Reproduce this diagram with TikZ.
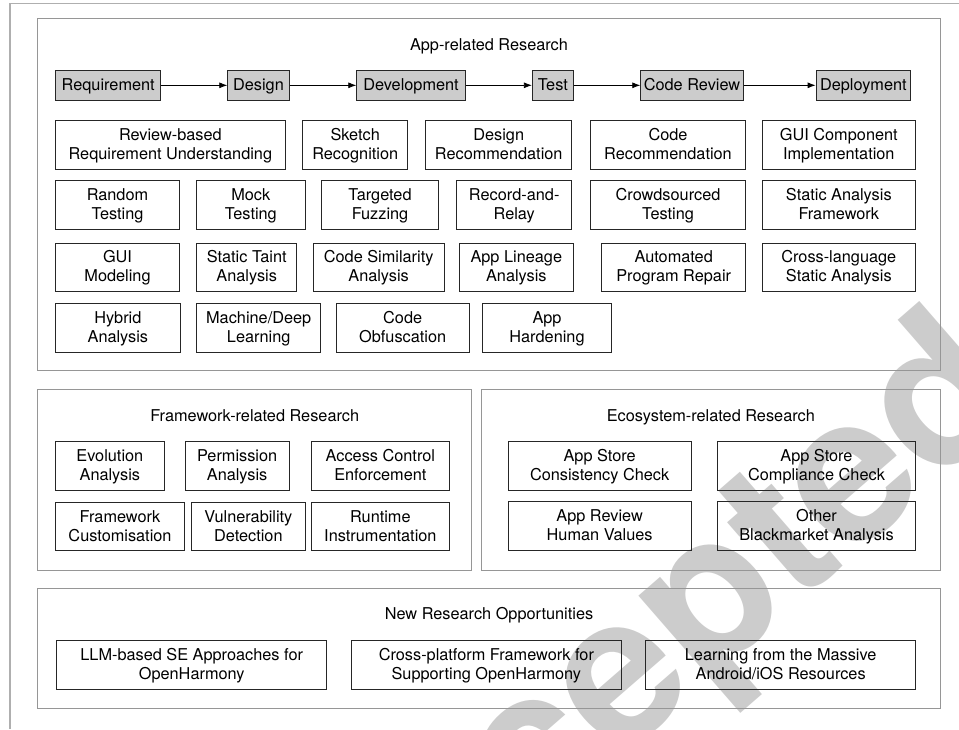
\documentclass[tikz,border=0pt]{standalone}
\usepackage{fontspec}
\setmainfont{TeX Gyre Heros}
\usetikzlibrary{arrows.meta}
\definecolor{stagefill}{RGB}{204,204,204}
\definecolor{panelline}{RGB}{150,150,150}
\definecolor{frameline}{RGB}{175,175,175}
\definecolor{stampgray}{RGB}{204,204,204}
\newcommand{\ls}{\rule[-3.3pt]{0pt}{17pt}}
\newcommand{\topic}[6]{\node[topic, minimum width=#4pt] (#1) at (#2,#3) {\ls#5\\\ls#6};}
\newcommand{\stage}[5]{\node[stagebox, minimum width=#4pt] (#1) at (#2,#3) {\ls#5};}
\newcommand{\panel}[4]{\draw[panel] (#1,#2) rectangle (#3,#4);}
\tikzset{
  topic/.style={draw=black!85, line width=0.8pt, align=center, minimum height=48.6pt, inner sep=2pt},
  stagebox/.style={draw=black!85, fill=stagefill, line width=0.8pt, minimum height=29.3pt, inner sep=2pt},
  panel/.style={draw=panelline, line width=1pt},
  paneltitle/.style={anchor=base},
  flow/.style={-{Latex[length=8pt,width=6pt]}, line width=0.8pt},
  stamp/.style={text=stampgray, font=\fontsize{205}{205}\selectfont\bfseries, inner sep=0pt}
}

\begin{document}
\lineskiplimit=-50pt
\begin{tikzpicture}[x=1pt,y=-1pt,font=\fontsize{16.3}{19.2}\selectfont]
\useasboundingbox (0,0) rectangle (959,729);
\node[stamp, rotate=41, anchor=base east] (stamp) at (1028,405) {Accepted};
\draw[draw=frameline, line width=1.5pt] (10,729)--(10,3.5)--(959,3.5);
\panel{37.7}{18.3}{940}{370.7}
\panel{37.7}{389.3}{471.7}{570}
\panel{481.7}{389.3}{940}{570}
\panel{37.7}{588.3}{940}{708.3}
\node[paneltitle] (apptitle) at (489,50.5) {App-related Research};
\node[paneltitle] (fwtitle) at (254.7,421) {Framework-related Research};
\node[paneltitle] (ecotitle) at (710.8,421) {Ecosystem-related Research};
\node[paneltitle] (newtitle) at (489,619.5) {New Research Opportunities};
\stage{req}{108.2}{85.3}{105}{Requirement}
\stage{des}{258.5}{85.3}{61.6}{Design}
\stage{dev}{411}{85.3}{108.6}{Development}
\stage{test}{552.8}{85.3}{41}{Test}
\stage{cr}{692}{85.3}{102.6}{Code Review}
\stage{dep}{863.35}{85.3}{94.7}{Deployment}
\foreach \a/\b in {req/des,des/dev,dev/test,test/cr,cr/dep}
  \draw[flow] (\a) -- (\b);
\topic{rbru}{170.35}{145}{229.3}{Review-based}{Requirement Understanding}
\topic{sketch}{355.2}{145}{105}{Sketch}{Recognition}
\topic{desrec}{498.7}{145}{146}{Design}{Recommendation}
\topic{coderec}{668}{145}{154.6}{Code}{Recommendation}
\topic{guicomp}{838.8}{145}{153}{GUI Component}{Implementation}
\topic{random}{117.5}{205}{123.6}{Random}{Testing}
\topic{mock}{250.85}{205}{108.3}{Mock}{Testing}
\topic{fuzz}{380}{205}{116.6}{Targeted}{Fuzzing}
\topic{record}{514.2}{205}{115}{Record-and-}{Relay}
\topic{crowd}{668}{205}{154.6}{Crowdsourced}{Testing}
\topic{saf}{838.8}{205}{153}{Static Analysis}{Framework}
\topic{guimod}{117.5}{267.2}{123.6}{GUI}{Modeling}
\topic{taint}{246.7}{267.2}{100}{Static Taint}{Analysis}
\topic{codesim}{378.65}{267.2}{130.7}{Code Similarity}{Analysis}
\topic{lineage}{516.3}{267.2}{114}{App Lineage}{Analysis}
\topic{apr}{673.7}{267.2}{144}{Automated}{Program Repair}
\topic{crosslang}{838.8}{267.2}{153}{Cross-language}{Static Analysis}
\topic{hybrid}{117.85}{327.65}{124.3}{Hybrid}{Analysis}
\topic{mldl}{258.7}{327.65}{124}{Machine/Deep}{Learning}
\topic{obfus}{402.65}{327.65}{133.3}{Code}{Obfuscation}
\topic{harden}{547}{327.65}{128.6}{App}{Hardening}
\topic{evo}{109.85}{465.85}{108.3}{Evolution}{Analysis}
\topic{perm}{237.15}{465.85}{104.3}{Permission}{Analysis}
\topic{acc}{380.35}{465.85}{137.3}{Access Control}{Enforcement}
\topic{fwcust}{120}{526.5}{128.6}{Framework}{Customisation}
\topic{vuln}{248.35}{526.5}{113.3}{Vulnerability}{Detection}
\topic{runtime}{380.35}{526.5}{137.3}{Runtime}{Instrumentation}
\topic{consist}{599.65}{465.85}{182.7}{App Store}{Consistency Check}
\topic{comply}{816.5}{465.85}{198.4}{App Store}{Compliance Check}
\topic{humanval}{599.65}{525.85}{182.7}{App Review}{Human Values}
\topic{black}{816.5}{525.85}{198.4}{Other}{Blackmarket Analysis}
\topic{llm}{191.7}{664.85}{270}{LLM-based SE Approaches for}{OpenHarmony}
\topic{xplat}{486.35}{664.85}{270.7}{Cross-platform Framework for}{Supporting OpenHarmony}
\topic{learn}{780.7}{664.85}{270}{Learning from the Massive}{Android/iOS Resources}
\end{tikzpicture}
\end{document}
